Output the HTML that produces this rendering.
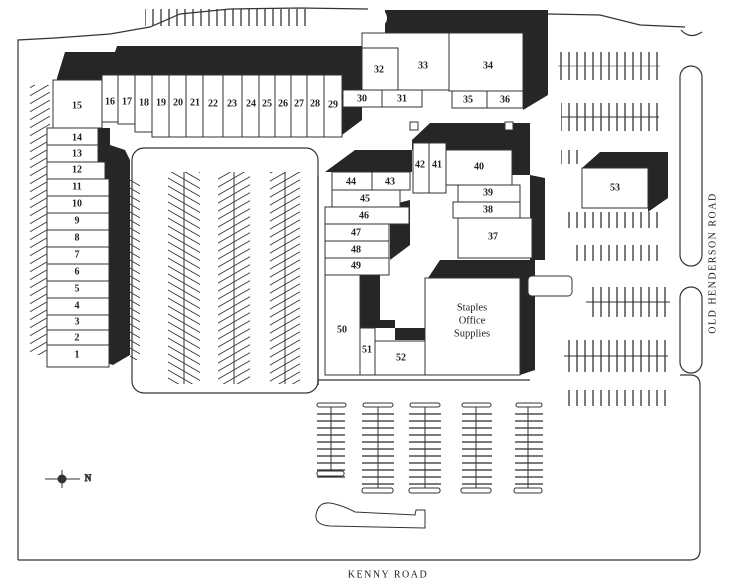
<!DOCTYPE html>
<html><head><meta charset="utf-8"><style>
html,body{margin:0;padding:0;background:#fff;}
svg{display:block}
text{font-family:"Liberation Serif",serif;font-size:10px;font-weight:bold;fill:#222;text-anchor:middle;dominant-baseline:middle}
</style></head><body>
<svg width="740" height="588" viewBox="0 0 740 588" xmlns="http://www.w3.org/2000/svg">
<defs>
<pattern id="vl" width="8" height="10" patternUnits="userSpaceOnUse"><line x1="1" y1="0" x2="1" y2="10" stroke="#333" stroke-width="1.3"/></pattern>
<pattern id="hl" width="10" height="7" patternUnits="userSpaceOnUse"><line x1="0" y1="1" x2="10" y2="1" stroke="#333" stroke-width="1.3"/></pattern>
<pattern id="dg" width="10" height="8" patternUnits="userSpaceOnUse" patternTransform="skewY(30)"><line x1="0" y1="1" x2="10" y2="1" stroke="#333" stroke-width="1"/></pattern>
<pattern id="dg2" width="10" height="8" patternUnits="userSpaceOnUse" patternTransform="skewY(-30)"><line x1="0" y1="1" x2="10" y2="1" stroke="#333" stroke-width="1"/></pattern>
</defs>
<g fill="none" stroke="#333" stroke-width="1.2">
<!-- site boundary -->
<path d="M18,560 L18,40 L55,38 L110,34 L150,27 L180,14 L230,9 L300,8 L368,9"/>
<path d="M548,14 L600,15 L640,25 L685,27"/>
<path d="M18,560 L690,560 Q700,560 700,550 L700,385 Q700,375 690,375 L680,375"/>
<!-- medians -->
<rect x="680" y="66" width="22" height="200" rx="11"/>
<rect x="680" y="287" width="22" height="86" rx="11"/>
<path d="M681,30 Q690,40 702,32"/>
<!-- inner lot -->
<rect x="132" y="148" width="186" height="245" rx="12"/>
<path d="M318,385 L318,380 L530,380"/>
<path d="M318,175 L318,385"/>
</g>
<!-- top curb hatching -->
<rect x="145" y="9" width="165" height="17" fill="url(#vl)"/>
<rect x="30" y="85" width="20" height="270" fill="url(#dg2)"/>
<rect x="130" y="180" width="10" height="180" fill="url(#dg)"/>
<!-- dark shadows -->
<g fill="#262626">
<path d="M57,78 L65,52 L115,52 L117,46 L362,46 L362,120 L342,135 L342,80 L57,80Z"/>
<path d="M385,10 L548,10 L548,95 L523,110 L523,33 L385,33Z"/>
<circle cx="378" cy="18" r="9" fill="#fff"/>
<path d="M98,128 L110,128 L110,145 L125,150 L130,160 L130,355 L113,365 L98,360Z"/>
<path d="M412,140 L430,123 L530,123 L530,175 L545,178 L545,260 L530,260 L530,175 L512,175 L512,150 L412,150Z"/>
<path d="M355,150 L412,150 L412,172 L325,172 Z"/>
<path d="M390,205 L410,200 L410,245 L390,260Z"/>
<path d="M428,278 L440,260 L535,260 L535,370 L520,375 L520,278Z"/>
<path d="M360,275 L380,275 L380,320 L395,320 L395,340 L425,340 L425,328 L360,328Z"/>
<path d="M600,152 L668,152 L668,198 L648,212 L648,168 L582,168Z"/>
</g>
<!-- parking strips center -->
<g stroke="#333" fill="none">
<rect x="168" y="172" width="32" height="212" fill="url(#dg)" stroke="none"/><line x1="184" y1="172" x2="184" y2="384"/>
<rect x="218" y="172" width="32" height="212" fill="url(#dg2)" stroke="none"/><line x1="234" y1="172" x2="234" y2="384"/>
<rect x="270" y="172" width="30" height="212" fill="url(#dg2)" stroke="none"/><line x1="285" y1="172" x2="285" y2="384"/>
</g>
<!-- right parking -->
<g stroke="#333" fill="none">
<rect x="558" y="52" width="102" height="28" fill="url(#vl)" stroke="none"/><line x1="558" y1="66" x2="660" y2="66" stroke-width=".5"/>
<rect x="561" y="103" width="98" height="28" fill="url(#vl)" stroke="none"/><line x1="561" y1="117" x2="659" y2="117"/>
<rect x="561" y="150" width="20" height="14" fill="url(#vl)" stroke="none"/>
<rect x="562" y="212" width="96" height="16" fill="url(#vl)" stroke="none"/>
<rect x="570" y="245" width="90" height="16" fill="url(#vl)" stroke="none"/>
<rect x="586" y="287" width="84" height="30" fill="url(#vl)" stroke="none"/><line x1="586" y1="302" x2="670" y2="302"/>
<rect x="564" y="340" width="104" height="32" fill="url(#vl)" stroke="none"/><line x1="564" y1="356" x2="668" y2="356"/>
<rect x="563" y="390" width="108" height="16" fill="url(#vl)" stroke="none"/>
<rect x="528" y="276" width="44" height="20" rx="4" fill="#fff"/>
</g>
<!-- bottom parking bars -->
<g stroke="#333" fill="#fff">
<rect x="317" y="413" width="28" height="65" fill="url(#hl)" stroke="none"/><line x1="331" y1="405" x2="331" y2="474"/><rect x="317" y="403" width="29" height="4" rx="2"/><rect x="317" y="471" width="27" height="5" rx="2"/>
<rect x="362" y="413" width="32" height="76" fill="url(#hl)" stroke="none"/><line x1="378" y1="405" x2="378" y2="488"/><rect x="363" y="403" width="30" height="4" rx="2"/><rect x="362" y="488" width="31" height="5" rx="2"/>
<rect x="409" y="413" width="32" height="76" fill="url(#hl)" stroke="none"/><line x1="425" y1="405" x2="425" y2="488"/><rect x="410" y="403" width="30" height="4" rx="2"/><rect x="409" y="488" width="31" height="5" rx="2"/>
<rect x="462" y="413" width="30" height="76" fill="url(#hl)" stroke="none"/><line x1="476" y1="405" x2="476" y2="488"/><rect x="462" y="403" width="29" height="4" rx="2"/><rect x="461" y="488" width="30" height="5" rx="2"/>
<rect x="515" y="413" width="28" height="76" fill="url(#hl)" stroke="none"/><line x1="528" y1="405" x2="528" y2="488"/><rect x="516" y="403" width="26" height="4" rx="2"/><rect x="514" y="488" width="28" height="5" rx="2"/>
<path d="M330,503 Q342,505 355,512 L415,515 L416,510 L425,510 L425,528 L330,526 Q315,525 316,515 Q318,502 330,503Z" fill="none"/>
</g>
<!-- buildings -->
<g fill="#fff" stroke="#333" stroke-width="1">
<rect x="53" y="80" width="49" height="48"/>
<rect x="102" y="75" width="16" height="47"/><rect x="118" y="75" width="17" height="49"/><rect x="135" y="75" width="17" height="57"/>
<rect x="152" y="75" width="17" height="62"/><rect x="169" y="75" width="17" height="62"/><rect x="186" y="75" width="17" height="62"/>
<rect x="203" y="75" width="20" height="62"/><rect x="223" y="75" width="19" height="62"/><rect x="242" y="75" width="17" height="62"/>
<rect x="259" y="75" width="16" height="62"/><rect x="275" y="75" width="16" height="62"/><rect x="291" y="75" width="16" height="62"/>
<rect x="307" y="75" width="17" height="62"/><rect x="324" y="75" width="18" height="62"/>
<rect x="343" y="90" width="39" height="17"/><rect x="382" y="90" width="40" height="17"/>
<rect x="362" y="33" width="87" height="57"/><rect x="362" y="48" width="36" height="42"/>
<rect x="449" y="33" width="74" height="58"/><rect x="452" y="91" width="35" height="17"/><rect x="487" y="91" width="36" height="17"/>
<rect x="410" y="122" width="8" height="8"/><rect x="505" y="122" width="8" height="8"/>
</g>
<g fill="#fff" stroke="#333" stroke-width="1">
<rect x="47" y="128" width="51" height="17"/><rect x="47" y="145" width="51" height="17"/><rect x="47" y="162" width="58" height="17"/>
<rect x="47" y="179" width="62" height="17"/><rect x="47" y="196" width="62" height="17"/><rect x="47" y="213" width="62" height="17"/>
<rect x="47" y="230" width="62" height="17"/><rect x="47" y="247" width="62" height="17"/><rect x="47" y="264" width="62" height="17"/>
<rect x="47" y="281" width="62" height="17"/><rect x="47" y="298" width="62" height="17"/><rect x="47" y="315" width="62" height="15"/>
<rect x="47" y="330" width="62" height="15"/><rect x="47" y="345" width="62" height="22"/>
</g>
<g fill="#fff" stroke="#333" stroke-width="1">
<rect x="332" y="172" width="40" height="18"/><rect x="372" y="172" width="38" height="18"/>
<rect x="332" y="190" width="68" height="17"/><rect x="325" y="207" width="84" height="17"/>
<rect x="325" y="224" width="64" height="17"/><rect x="325" y="241" width="64" height="17"/><rect x="325" y="258" width="64" height="17"/>
<rect x="325" y="275" width="35" height="100"/><rect x="360" y="328" width="15" height="47"/><rect x="375" y="341" width="50" height="34"/>
<rect x="425" y="278" width="95" height="97"/>
<rect x="413" y="143" width="16" height="50"/><rect x="429" y="143" width="17" height="50"/>
<rect x="446" y="150" width="66" height="35"/><rect x="458" y="185" width="62" height="17"/><rect x="453" y="202" width="67" height="16"/>
<rect x="458" y="218" width="74" height="40"/>
<rect x="582" y="168" width="66" height="40"/>
</g>
<g>
<text x="77" y="106">15</text><text x="110" y="102">16</text><text x="127" y="102">17</text><text x="144" y="103">18</text>
<text x="161" y="103">19</text><text x="178" y="103">20</text><text x="195" y="103">21</text><text x="213" y="104">22</text>
<text x="232" y="104">23</text><text x="251" y="104">24</text><text x="267" y="104">25</text><text x="283" y="104">26</text>
<text x="299" y="104">27</text><text x="315" y="104">28</text><text x="333" y="105">29</text>
<text x="362" y="99">30</text><text x="402" y="99">31</text><text x="379" y="70">32</text><text x="423" y="66">33</text>
<text x="488" y="66">34</text><text x="468" y="100">35</text><text x="505" y="100">36</text>
<text x="77" y="138">14</text><text x="77" y="154">13</text><text x="77" y="170">12</text><text x="77" y="187">11</text>
<text x="77" y="204">10</text><text x="77" y="221">9</text><text x="77" y="238">8</text><text x="77" y="255">7</text>
<text x="77" y="272">6</text><text x="77" y="289">5</text><text x="77" y="306">4</text><text x="77" y="322">3</text>
<text x="77" y="338">2</text><text x="77" y="355">1</text>
<text x="351" y="182">44</text><text x="390" y="182">43</text><text x="365" y="199">45</text><text x="364" y="216">46</text>
<text x="356" y="233">47</text><text x="356" y="250">48</text><text x="356" y="266">49</text>
<text x="342" y="330">50</text><text x="367" y="350">51</text><text x="401" y="358">52</text>
<text x="420" y="165">42</text><text x="437" y="165">41</text><text x="479" y="167">40</text><text x="488" y="193">39</text>
<text x="488" y="210">38</text><text x="493" y="237">37</text><text x="615" y="188">53</text>
<text x="472" y="308" style="font-weight:normal;font-size:10.5px">Staples</text>
<text x="472" y="321" style="font-weight:normal;font-size:10.5px">Office</text>
<text x="472" y="334" style="font-weight:normal;font-size:10.5px">Supplies</text>
<text x="388" y="575" style="font-weight:normal;font-size:10px;letter-spacing:1.5px">KENNY ROAD</text>
<text x="0" y="0" transform="translate(713,263) rotate(-90)" style="font-weight:normal;font-size:10px;letter-spacing:1.5px">OLD HENDERSON ROAD</text>
</g>
<!-- compass -->
<g stroke="#333" fill="none">
<line x1="45" y1="479" x2="80" y2="479"/><line x1="62" y1="470" x2="62" y2="488"/>
<circle cx="62" cy="479" r="4" fill="#333"/>
<text x="88" y="479" style="font-size:9px;font-weight:normal">N</text>
</g>
</svg>
</body></html>
